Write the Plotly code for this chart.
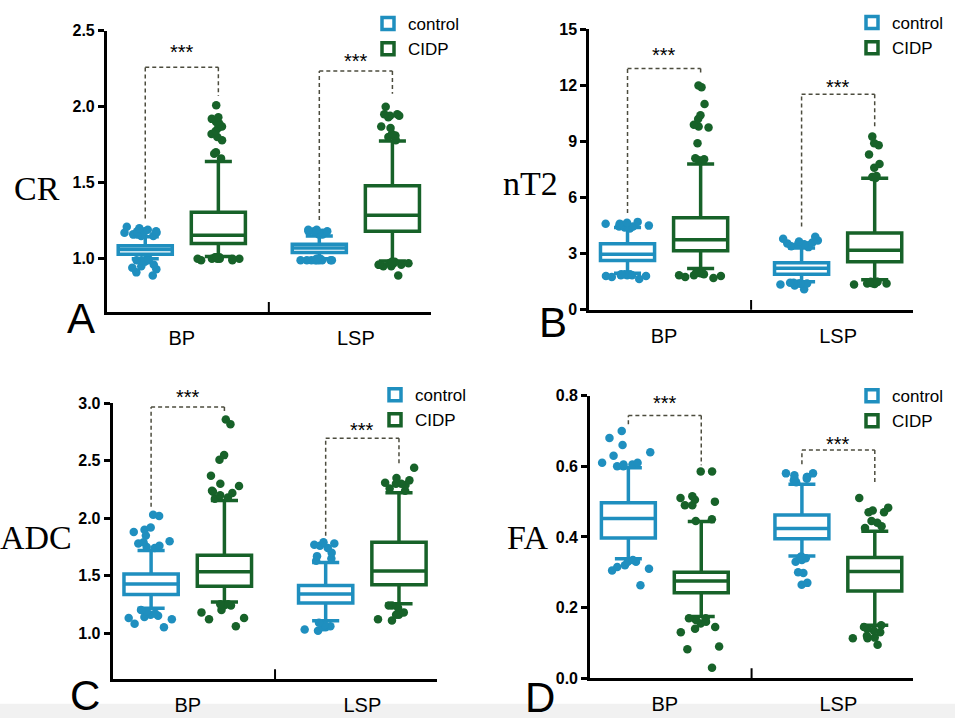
import plotly.graph_objects as go

categories = ["BP", "LSP"]
group_names = ["control", "CIDP"]

# ---------------- Panel A : CR ----------------
cr_control = dict(lowerfence=[1.00, 1.00], q1=[1.03, 1.04], median=[1.06, 1.07],
                  q3=[1.085, 1.095], upperfence=[1.145, 1.15])
cr_control_pts = [[1.15, 1.16, 1.17, 1.18, 1.19, 1.20, 1.18, 1.17, 1.16, 1.15, 1.21, 1.17, 1.18,
                   0.99, 0.99, 1.00, 0.98, 0.99, 0.96, 0.95, 0.94, 0.93, 0.91, 0.89],
                  [1.16, 1.17, 1.18, 1.18, 1.19, 1.17, 1.16, 1.18, 1.17, 1.19, 1.16, 1.18,
                   0.99, 0.99, 0.99, 1.00, 0.99, 0.99, 0.99, 0.99, 1.00, 0.99, 1.00, 0.99]]
cr_cidp = dict(lowerfence=[1.015, 0.985], q1=[1.10, 1.18], median=[1.155, 1.285],
               q3=[1.305, 1.48], upperfence=[1.64, 1.775])
cr_cidp_pts = [[1.66, 1.69, 1.70, 1.78, 1.80, 1.82, 1.84, 1.86, 1.87, 1.89, 1.90, 1.92, 1.93, 2.01,
                1.00, 1.00, 1.01, 1.01, 1.00, 1.00, 0.99, 1.00, 1.01, 1.00, 1.01, 0.99],
               [1.78, 1.80, 1.82, 1.81, 1.86, 1.87, 1.93, 1.94, 1.95, 1.95, 1.94, 2.00,
                0.96, 0.97, 0.97, 0.96, 0.95, 0.98, 0.97, 0.96, 0.97, 0.98, 0.95, 0.89]]

# ---------------- Panel B : nT2 ----------------
nt2_control = dict(lowerfence=[1.95, 1.50], q1=[2.64, 1.90], median=[2.97, 2.22],
                   q3=[3.53, 2.52], upperfence=[4.40, 3.30])
nt2_control_pts = [[4.45, 4.50, 4.60, 4.70, 4.50, 4.55, 4.40, 4.65, 4.45, 4.35, 4.60,
                    1.90, 1.85, 1.80, 1.85, 1.90, 1.75, 1.65, 1.85, 1.90, 1.80],
                   [3.35, 3.40, 3.50, 3.50, 3.60, 3.70, 3.80, 3.90, 3.65, 3.45, 3.55,
                    1.45, 1.40, 1.42, 1.38, 1.35, 1.45, 1.30, 1.40, 1.10]]
nt2_cidp = dict(lowerfence=[2.20, 1.60], q1=[3.16, 2.57], median=[3.74, 3.18],
                q3=[4.92, 4.10], upperfence=[7.79, 7.04])
nt2_cidp_pts = [[8.00, 8.05, 8.10, 7.95, 8.90, 9.80, 9.90, 9.75, 10.2, 10.4, 11.0, 11.9, 12.0,
                 2.00, 1.90, 1.95, 1.85, 2.00, 1.80, 1.75, 1.70, 1.95, 1.85],
                [7.10, 7.15, 7.05, 7.10, 7.60, 7.80, 8.30, 8.80, 8.90, 9.26,
                 1.50, 1.45, 1.40, 1.50, 1.45, 1.38, 1.35, 1.42, 1.48, 1.40]]

# ---------------- Panel C : ADC ----------------
adc_control = dict(lowerfence=[1.216, 1.108], q1=[1.336, 1.262], median=[1.427, 1.341],
                   q3=[1.515, 1.415], upperfence=[1.72, 1.614])
adc_control_pts = [[1.74, 1.76, 1.78, 1.79, 1.80, 1.75, 1.85, 1.88, 1.90, 1.92, 2.03, 2.02,
                    1.19, 1.20, 1.17, 1.15, 1.16, 1.13, 1.12, 1.14, 1.08, 1.05],
                   [1.63, 1.65, 1.67, 1.70, 1.74, 1.76, 1.78, 1.79, 1.77,
                    1.09, 1.07, 1.05, 1.05, 1.06, 1.03, 1.02]]
adc_cidp = dict(lowerfence=[1.27, 1.256], q1=[1.407, 1.421], median=[1.535, 1.54],
                q3=[1.677, 1.791], upperfence=[2.155, 2.223])
adc_cidp_pts = [[2.17, 2.18, 2.20, 2.22, 2.23, 2.24, 2.28, 2.30, 2.37, 2.51, 2.55, 2.82, 2.86,
                 1.25, 1.24, 1.24, 1.25, 1.20, 1.18, 1.12, 1.13, 1.06],
                [2.24, 2.26, 2.29, 2.30, 2.31, 2.33, 2.30, 2.35, 2.44,
                 1.24, 1.22, 1.24, 1.18, 1.16, 1.16, 1.12, 1.11]]

# ---------------- Panel D : FA ----------------
fa_control = dict(lowerfence=[0.338, 0.346], q1=[0.397, 0.395], median=[0.452, 0.424],
                  q3=[0.497, 0.462], upperfence=[0.596, 0.549])
fa_control_pts = [[0.60, 0.605, 0.61, 0.61, 0.60, 0.605, 0.63, 0.64, 0.66, 0.68, 0.70,
                   0.33, 0.335, 0.32, 0.33, 0.315, 0.31, 0.305, 0.263],
                  [0.555, 0.56, 0.565, 0.57, 0.575, 0.58, 0.58, 0.565, 0.57,
                   0.34, 0.345, 0.335, 0.34, 0.33, 0.30, 0.298, 0.27, 0.265]]
fa_cidp = dict(lowerfence=[0.175, 0.15], q1=[0.242, 0.247], median=[0.275, 0.302],
               q3=[0.30, 0.342], upperfence=[0.444, 0.416])
fa_cidp_pts = [[0.45, 0.445, 0.49, 0.49, 0.50, 0.51, 0.515, 0.505, 0.585, 0.585,
                0.17, 0.165, 0.16, 0.155, 0.17, 0.145, 0.14, 0.13, 0.09, 0.082, 0.03],
               [0.425, 0.43, 0.445, 0.44, 0.47, 0.475, 0.47, 0.483, 0.51,
                0.145, 0.14, 0.15, 0.135, 0.13, 0.12, 0.113, 0.115, 0.113, 0.095]]

# significance brackets: [left leg end, top, right leg end, star level] per category
cr_brackets = [[1.265, 2.26, 2.07, 2.36], [1.255, 2.235, 2.085, 2.30]]
nt2_brackets = [[5.18, 12.9, 12.65, 13.6], [4.45, 11.52, 9.79, 11.9]]
adc_brackets = [[2.10, 2.97, 2.915, 3.06], [1.848, 2.696, 2.474, 2.77]]
fa_brackets = [[0.719, 0.744, 0.603, 0.78], [0.606, 0.646, 0.547, 0.662]]

# ---------------- styling ----------------
CTRL_COLOR = "#1f8fbf"
CIDP_COLOR = "#176229"
BRACKET_COLOR = "#4c4c3e"
SANS = "Liberation Sans, Arial, sans-serif"
SERIF = "Liberation Serif, Times New Roman, serif"
BOXGAP = 0.16
BOXGROUPGAP = 0.26
OFF = (1 - BOXGAP) / 4

panels = [
    dict(title="CR", letter="A", ctrl=cr_control, cidp=cr_cidp, ctrl_pts=cr_control_pts,
         cidp_pts=cr_cidp_pts, brackets=cr_brackets, yrange=[0.65, 2.5],
         tickvals=[1.0, 1.5, 2.0, 2.5], fmt=".1f",
         xdom=[0.112, 0.451], ydom=[0.572, 0.968],
         title_xy=(37, 185), letter_xy=(81, 318), legend_xy=(368, -2)),
    dict(title="nT2", letter="B", ctrl=nt2_control, cidp=nt2_cidp, ctrl_pts=nt2_control_pts,
         cidp_pts=nt2_cidp_pts, brackets=nt2_brackets, yrange=[0, 15],
         tickvals=[0, 3, 6, 9, 12, 15], fmt="d",
         xdom=[0.617, 0.956], ydom=[0.575, 0.970],
         title_xy=(530, 180), letter_xy=(553, 322), legend_xy=(852, -3)),
    dict(title="ADC", letter="C", ctrl=adc_control, cidp=adc_cidp, ctrl_pts=adc_control_pts,
         cidp_pts=adc_cidp_pts, brackets=adc_brackets, yrange=[0.6, 3.0],
         tickvals=[1.0, 1.5, 2.0, 2.5, 3.0], fmt=".1f",
         xdom=[0.118, 0.458], ydom=[0.055, 0.443],
         title_xy=(36, 542), letter_xy=(85, 704), legend_xy=(375, 378)),
    dict(title="FA", letter="D", ctrl=fa_control, cidp=fa_cidp, ctrl_pts=fa_control_pts,
         cidp_pts=fa_cidp_pts, brackets=fa_brackets, yrange=[0, 0.8],
         tickvals=[0.0, 0.2, 0.4, 0.6, 0.8], fmt=".1f",
         xdom=[0.618, 0.956], ydom=[0.056, 0.454],
         title_xy=(527, 542), letter_xy=(540, 706), legend_xy=(852, 379)),
]

W, H = 955, 727
fig = go.Figure()
shapes = []
annotations = []
layout_extra = {}

for k, p in enumerate(panels):
    n = "" if k == 0 else str(k + 1)
    xa, ya = "x" + n, "y" + n
    leg = "legend" + n
    for name, stats, pts, color in [("control", p["ctrl"], p["ctrl_pts"], CTRL_COLOR),
                                    ("CIDP", p["cidp"], p["cidp_pts"], CIDP_COLOR)]:
        fig.add_trace(go.Box(
            name=name, x=categories, y=pts,
            q1=stats["q1"], median=stats["median"], q3=stats["q3"],
            lowerfence=stats["lowerfence"], upperfence=stats["upperfence"],
            boxpoints="all", jitter=1.0, pointpos=0,
            marker=dict(color=color, size=8.5, line=dict(width=0)),
            line=dict(color=color, width=3.5), fillcolor="white",
            whiskerwidth=0.5, xaxis=xa, yaxis=ya, legend=leg,
            alignmentgroup="panel" + p["letter"], offsetgroup=name,
            hoverinfo="y",
        ))
    layout_extra["xaxis" + n] = dict(
        domain=p["xdom"], anchor=ya, range=[-0.43, 1.43], type="category",
        showline=True, linecolor="black", linewidth=3, ticks="", showgrid=False,
        zeroline=False, tickfont=dict(family=SANS, size=20, color="black"),
        ticklabelstandoff=6,
    )
    layout_extra["yaxis" + n] = dict(
        domain=p["ydom"], anchor=xa, range=p["yrange"], tickvals=p["tickvals"],
        tickformat=p["fmt"], showline=True, linecolor="black", linewidth=3,
        ticks="outside", ticklen=6, tickwidth=2.5, tickcolor="black",
        showgrid=False, zeroline=False,
        tickfont=dict(family=SANS, size=16, color="black", weight="bold"),
    )
    lx, ly = p["legend_xy"]
    layout_extra[leg] = dict(
        x=lx / W, y=1 - ly / H, xanchor="left", yanchor="top",
        font=dict(family=SANS, size=17, color="black"), bgcolor="rgba(0,0,0,0)",
        tracegroupgap=0, itemclick=False, itemdoubleclick=False,
    )
    # separator tick between categories
    shapes.append(dict(type="line", xref=xa, yref=ya + " domain", x0=0.5, x1=0.5,
                       y0=0, y1=0.035, line=dict(color="black", width=2)))
    # significance brackets
    y0, y1 = p["yrange"]
    for ci, (yl, yt, yr, ys) in enumerate(p["brackets"]):
        x0, x1 = ci - OFF, ci + OFF
        for (ax0, ay0, ax1, ay1) in [(x0, yl, x0, yt), (x0, yt, x1, yt), (x1, yt, x1, yr)]:
            shapes.append(dict(type="line", xref=xa, yref=ya, x0=ax0, y0=ay0, x1=ax1, y1=ay1,
                               line=dict(color=BRACKET_COLOR, width=1.5, dash="4px,3px")))
        annotations.append(dict(text="***", xref=xa, yref=ya + " domain", x=ci,
                                y=(ys - y0) / (y1 - y0), showarrow=False,
                                font=dict(family=SANS, size=20, color="black"),
                                yanchor="middle"))
    tx, ty = p["title_xy"]
    annotations.append(dict(text=p["title"], xref="paper", yref="paper", x=tx / W, y=1 - ty / H,
                            showarrow=False, font=dict(family=SERIF, size=34, color="black"),
                            xanchor="center", yanchor="middle"))
    lx2, ly2 = p["letter_xy"]
    annotations.append(dict(text=p["letter"], xref="paper", yref="paper", x=lx2 / W, y=1 - ly2 / H,
                            showarrow=False, font=dict(family=SANS, size=42, color="black"),
                            xanchor="center", yanchor="middle"))

# faint grey band at the bottom of the picture
shapes.append(dict(type="rect", xref="paper", yref="paper", x0=0, x1=1, y0=0, y1=0.02,
                   fillcolor="#f1f1f1", line=dict(width=0), layer="below"))

fig.update_layout(
    width=W, height=H, margin=dict(l=0, r=0, t=0, b=0),
    paper_bgcolor="white", plot_bgcolor="rgba(0,0,0,0)",
    boxmode="group", boxgap=BOXGAP, boxgroupgap=BOXGROUPGAP,
    shapes=shapes, annotations=annotations, showlegend=True,
    **layout_extra,
)

fig.write_html("out.html", config={"displayModeBar": False},
               post_script="document.body.style.margin='0';")
